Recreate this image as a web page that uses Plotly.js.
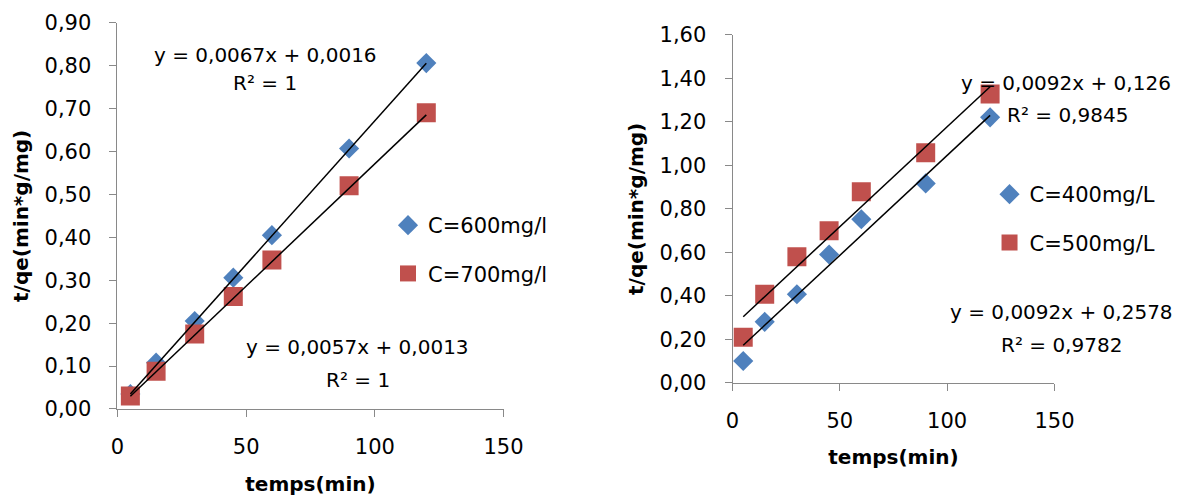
<!DOCTYPE html>
<html>
<head>
<meta charset="utf-8">
<script src="https://cdn.plot.ly/plotly-3.0.1.min.js"></script>
<style>html,body{margin:0;padding:0;background:#fff;}#chart{width:1179px;height:499px;}</style>
</head>
<body>
<div id="chart"></div>
<script>
// ---- data ----
const timeMin = [5, 15, 30, 45, 60, 90, 120];

// left chart
const yC600 = [0.035, 0.108, 0.205, 0.306, 0.405, 0.607, 0.806];
const yC700 = [0.030, 0.088, 0.175, 0.262, 0.347, 0.520, 0.690];
// right chart
const yC400 = [0.100, 0.280, 0.407, 0.590, 0.752, 0.917, 1.221];
const yC500 = [0.209, 0.407, 0.580, 0.699, 0.879, 1.058, 1.329];

// linear fits shown on the chart: [slope, intercept]
const fitC600 = [0.0067, 0.0016];
const fitC700 = [0.0057, 0.0013];
const fitC400 = [0.0092, 0.126];
const fitC500 = [0.0092, 0.2578];

const eqLabels = {
  c600: ['y = 0,0067x + 0,0016', 'R² = 1'],
  c700: ['y = 0,0057x + 0,0013', 'R² = 1'],
  c400: ['y = 0,0092x + 0,126', 'R² = 0,9845'],
  c500: ['y = 0,0092x + 0,2578', 'R² = 0,9782']
};

const seriesNames = ['C=600mg/l', 'C=700mg/l', 'C=400mg/L', 'C=500mg/L'];
const xTickVals = [0, 50, 100, 150];

// ---- helpers ----
const BLUE = '#4F81BD', RED = '#C0504D', AXIS = '#898989';
const FONT = 'DejaVu Sans';

function fitLine(fit, xs, xa, ya) {
  const x0 = Math.min(...xs), x1 = Math.max(...xs);
  return {
    x: [x0, x1], y: [fit[0] * x0 + fit[1], fit[0] * x1 + fit[1]],
    mode: 'lines', type: 'scatter', xaxis: xa, yaxis: ya,
    line: {color: '#000', width: 1.5}, showlegend: false, hoverinfo: 'skip'
  };
}
function pts(y, name, sym, size, color, xa, ya, leg) {
  return {
    x: timeMin, y: y, name: name, mode: 'markers', type: 'scatter',
    xaxis: xa, yaxis: ya, legend: leg, legendgroup: name,
    marker: {symbol: sym, size: size, color: color, line: {width: 0}}
  };
}

const traces = [
  pts(yC600, seriesNames[0], 'diamond', 15.5, BLUE, 'x', 'y', 'legend'),
  pts(yC700, seriesNames[1], 'square', 19, RED, 'x', 'y', 'legend'),
  fitLine(fitC600, timeMin, 'x', 'y'),
  fitLine(fitC700, timeMin, 'x', 'y'),
  pts(yC400, seriesNames[2], 'diamond', 15.5, BLUE, 'x2', 'y2', 'legend2'),
  pts(yC500, seriesNames[3], 'square', 19, RED, 'x2', 'y2', 'legend2'),
  fitLine(fitC400, timeMin, 'x2', 'y2'),
  fitLine(fitC500, timeMin, 'x2', 'y2')
];

function xAxis(domain, anchor) {
  return {
    domain: domain, anchor: anchor, range: [0, 150], tickvals: xTickVals,
    showgrid: false, zeroline: false, showline: true, linecolor: AXIS, linewidth: 1,
    ticks: 'outside', ticklen: 7, tickcolor: AXIS, tickwidth: 1,
    tickfont: {family: FONT, size: 21, color: '#000'}, ticklabelstandoff: 12,
    title: {text: 'temps(min)', font: {family: FONT, size: 20, weight: 'bold', color: '#000'}, standoff: 18}
  };
}
function yAxis(domain, anchor, max, dtick) {
  return {
    domain: domain, anchor: anchor, range: [0, max], dtick: dtick, tick0: 0,
    tickformat: '.2f',
    showgrid: false, zeroline: false, showline: true, linecolor: AXIS, linewidth: 1,
    ticks: 'outside', ticklen: 7, tickcolor: AXIS, tickwidth: 1,
    tickfont: {family: FONT, size: 21, color: '#000'}, ticklabelstandoff: 14,
    title: {text: 't/qe(min*g/mg)', font: {family: FONT, size: 20, weight: 'bold', color: '#000'}, standoff: 10}
  };
}

function ann(text, x, y, size) {
  return {text: text, x: x, y: y, xref: 'paper', yref: 'paper', xanchor: 'center', yanchor: 'middle',
          showarrow: false, font: {family: FONT, size: size, color: '#000'}};
}

const layout = {
  width: 1179, height: 499,
  margin: {l: 0, r: 0, t: 0, b: 0},
  paper_bgcolor: '#fff', plot_bgcolor: '#fff',
  separators: ', ',
  font: {family: FONT, size: 21, color: '#000'},
  showlegend: true,
  xaxis: xAxis([0.09966, 0.42706], 'y'),
  yaxis: yAxis([0.18036, 0.95451], 'x', 0.9, 0.1),
  xaxis2: xAxis([0.62129, 0.89440], 'y2'),
  yaxis2: yAxis([0.23307, 0.92986], 'x2', 1.6, 0.2),
  legend: {x: 0.3291, y: 0.5892, xanchor: 'left', yanchor: 'top', bgcolor: 'rgba(0,0,0,0)',
           font: {family: FONT, size: 21}, tracegroupgap: 18, traceorder: 'grouped'},
  legend2: {x: 0.8393, y: 0.6513, xanchor: 'left', yanchor: 'top', bgcolor: 'rgba(0,0,0,0)',
            font: {family: FONT, size: 21}, tracegroupgap: 18, traceorder: 'grouped'},
  annotations: [
    ann(eqLabels.c600[0], 0.22477, 0.88978, 20),
    ann(eqLabels.c600[1], 0.22477, 0.83307, 20),
    ann(eqLabels.c700[0], 0.30340, 0.30521, 20),
    ann(eqLabels.c700[1], 0.30348, 0.23848, 20),
    ann(eqLabels.c400[0], 0.90458, 0.83367, 20),
    ann(eqLabels.c400[1], 0.90501, 0.76954, 20),
    ann(eqLabels.c500[0], 0.89992, 0.37415, 20),
    ann(eqLabels.c500[1], 0.89992, 0.30862, 20)
  ]
};

Plotly.newPlot('chart', traces, layout, {staticPlot: true, displayModeBar: false});
</script>
</body>
</html>
